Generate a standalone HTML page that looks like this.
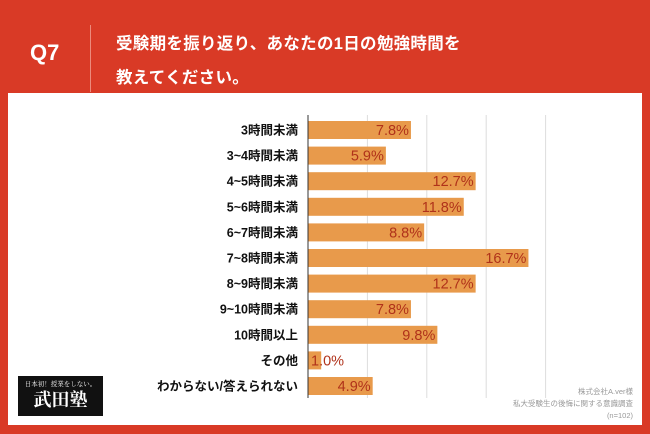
<!DOCTYPE html>
<html><head><meta charset="utf-8">
<style>
body{margin:0;width:650px;height:434px;background:#d93a26;font-family:"Liberation Sans","Noto Sans CJK JP",sans-serif;overflow:hidden;position:relative}
.q{position:absolute;left:30px;top:40px;color:#fff;font-weight:bold;font-size:22px}
.div{position:absolute;left:90px;top:25px;width:1px;height:67px;background:#ec8a7c}
.t{position:absolute;left:116px;color:#fff;font-weight:bold;font-size:16.5px;letter-spacing:0.3px}
.panel{position:absolute;left:8px;top:93px;width:634px;height:332px;background:#fff}
.logo{position:absolute;left:18px;top:376px;width:85px;height:40px;background:#111;color:#fff;font-family:"Noto Serif CJK SC",serif}
</style></head><body>
<div class="q">Q7</div>
<div class="div"></div>
<div class="t" style="top:30px">受験期を振り返り、あなたの1日の勉強時間を</div>
<div class="t" style="top:64px">教えてください。</div>
<div class="panel"></div>
<svg id="chart" width="650" height="434" style="position:absolute;left:0;top:0"></svg>
<div class="logo">
<div style="font-size:6.5px;text-align:center;margin-top:3px">日本初！授業をしない。</div>
<div style="font-size:18px;font-weight:bold;text-align:center;line-height:22px">武田塾</div>
</div>
<div style="position:absolute;right:17px;top:386px;font-size:7.5px;color:#999;text-align:right;line-height:12px">株式会社A.ver様<br>私大受験生の後悔に関する意識調査<br>(n=102)</div>
<script>
const categories=["3時間未満","3~4時間未満","4~5時間未満","5~6時間未満","6~7時間未満","7~8時間未満","8~9時間未満","9~10時間未満","10時間以上","その他","わからない/答えられない"];
const values=[7.8,5.9,12.7,11.8,8.8,16.7,12.7,7.8,9.8,1.0,4.9];
const gridTicks=[4.5,9,13.5,18];
const svg=document.getElementById('chart');const NS='http://www.w3.org/2000/svg';
const x0=308,pxPer=13.2,y0=130,step=25.6,bh=18;
const x=v=>x0+v*pxPer;const y=i=>y0+i*step;
function mk(t,a){const e=document.createElementNS(NS,t);for(const k in a)e.setAttribute(k,a[k]);svg.appendChild(e);return e;}
gridTicks.forEach(g=>{const l=mk('line',{x1:x(g),x2:x(g),y1:115,y2:398,stroke:'#ddd','stroke-width':1});

});
categories.forEach((c,i)=>{
const r=mk('rect',{x:x0,y:y(i)-bh/2,width:x(values[i])-x0,height:bh,fill:'#e89a4b'});


const t=mk('text',{x:298,y:y(i)+4.5,'text-anchor':'end','font-size':'12.5','font-weight':'bold',fill:'#111'});t.textContent=c;


const w=x(values[i])-x0;
const v=mk('text',w<40?{x:x0+3,y:y(i)+5,'text-anchor':'start','font-size':'14.5',fill:'#b0321a'}:{x:x(values[i])-2,y:y(i)+5,'text-anchor':'end','font-size':'14.5',fill:'#b0321a'});v.textContent=values[i].toFixed(1)+'%';


});
const ax=mk('line',{x1:x0,x2:x0,y1:115,y2:398,stroke:'#333','stroke-width':1});


</script>
</body></html>
